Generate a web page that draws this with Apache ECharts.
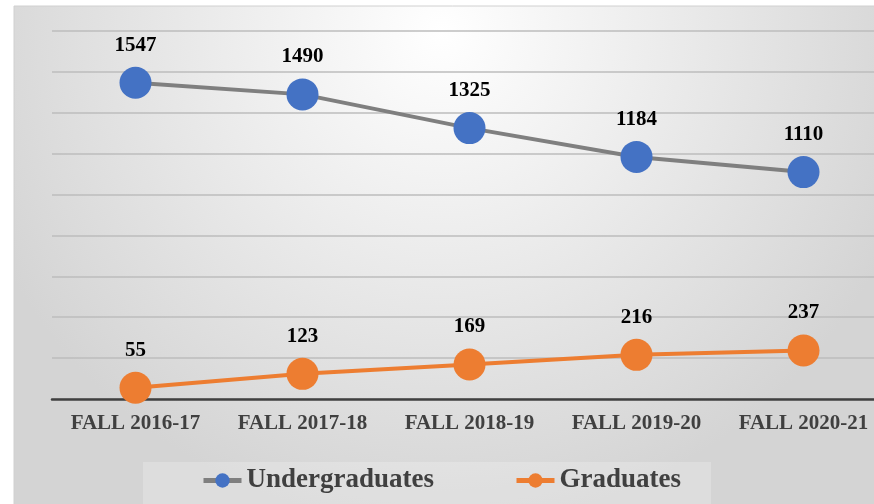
<!DOCTYPE html>
<html>
<head>
<meta charset="utf-8">
<script src="https://cdn.jsdelivr.net/npm/echarts@6/dist/echarts.min.js"></script>
<style>
html, body { margin: 0; padding: 0; background: #fff; overflow: hidden; }
#main { width: 890px; height: 504px; }
</style>
</head>
<body>
<div id="main"></div>
<script>
var categories = ['FALL 2016-17', 'FALL 2017-18', 'FALL 2018-19', 'FALL 2019-20', 'FALL 2020-21'];
var undergraduates = [1547, 1490, 1325, 1184, 1110];
var graduates = [55, 123, 169, 216, 237];

// the plot runs a little past the right edge of the window, as in the original
var chart = echarts.init(document.getElementById('main'));
var serif = '"Liberation Serif", "DejaVu Serif", serif';

chart.setOption({
    animation: false,
    graphic: [
        { // chart frame with soft gradient
            type: 'rect',
            z: -10,
            shape: { x: 14, y: 6, width: 890, height: 520 },
            style: {
                fill: {
                    type: 'radial', x: 0.48, y: 0.05, r: 0.95,
                    colorStops: [
                        { offset: 0, color: '#ffffff' },
                        { offset: 1, color: '#d4d4d4' }
                    ]
                },
                stroke: '#d0d0d0',
                lineWidth: 1
            }
        },
        { // legend box
            type: 'rect',
            z: -9,
            shape: { x: 143, y: 462, width: 568, height: 50 },
            style: { fill: 'rgba(255,255,255,0.22)' }
        }
    ],
    grid: { left: 52, right: 3, top: 31, bottom: 105 },
    legend: {
        bottom: 5,
        left: 196,
        itemWidth: 38,
        itemHeight: 18,
        itemGap: 80,
        lineStyle: { width: 5 },
        textStyle: { fontFamily: serif, fontWeight: 'bold', fontSize: 27, color: '#404040' },
        data: ['Undergraduates', 'Graduates']
    },
    xAxis: {
        type: 'category',
        data: categories,
        axisLine: { lineStyle: { color: '#404040', width: 2.5 } },
        axisTick: { show: false },
        axisLabel: { interval: 0, margin: 14, fontFamily: serif, fontWeight: 'bold', fontSize: 21, color: '#404040' }
    },
    yAxis: {
        type: 'value',
        min: 0,
        max: 1800,
        interval: 200,
        axisLabel: { show: false },
        axisLine: { show: false },
        axisTick: { show: false },
        splitLine: { lineStyle: { color: '#bdbdbd', width: 1.5 } }
    },
    series: [
        {
            name: 'Undergraduates',
            type: 'line',
            data: undergraduates,
            symbol: 'circle',
            symbolSize: 32,
            lineStyle: { color: '#7f7f7f', width: 4 },
            itemStyle: { color: '#4472c4' },
            label: { show: true, position: 'top', distance: 11, fontFamily: serif, fontWeight: 'bold', fontSize: 21, color: '#000' }
        },
        {
            name: 'Graduates',
            type: 'line',
            data: graduates,
            symbol: 'circle',
            symbolSize: 32,
            lineStyle: { color: '#ed7d31', width: 4 },
            itemStyle: { color: '#ed7d31' },
            label: { show: true, position: 'top', distance: 11, fontFamily: serif, fontWeight: 'bold', fontSize: 21, color: '#000' }
        }
    ]
});
</script>
</body>
</html>
